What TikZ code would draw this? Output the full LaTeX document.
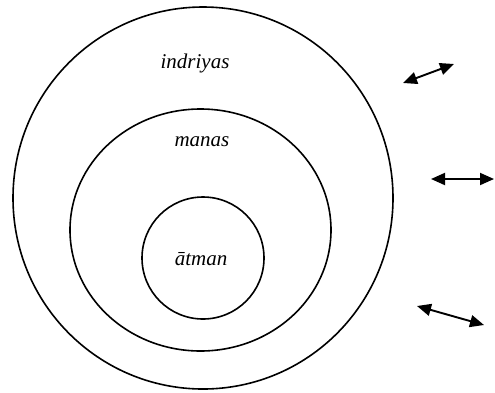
\documentclass[tikz,border=0pt]{standalone}
\usepackage{fontspec}
\setmainfont{Liberation Serif}
\usetikzlibrary{arrows.meta}

\begin{document}
\begin{tikzpicture}[x=1pt,y=-1pt,
  ring/.style={line width=1.6pt},
  link/.style={line width=1.9pt,{Triangle[length=14pt,width=12pt]}-{Triangle[length=14pt,width=12pt]}},
  word/.style={font=\fontsize{21}{24}\selectfont\itshape}]
  \useasboundingbox (0,0) rectangle (495,392);

  \draw[ring] (203,198) ellipse (190 and 191);
  \draw[ring] (200.5,230) ellipse (130.5 and 121);
  \draw[ring] (203,258) circle (61);

  \node[word] (indriyas) at (195,63) {indriyas};
  \node[word] (manas) at (202,142) {manas};
  \node[word] (atman) at (201,259) {\=atman};

  \coordinate (a1) at (403,83);
  \coordinate (b1) at (454,64);
  \coordinate (a2) at (431,179);
  \coordinate (b2) at (494,179);
  \coordinate (a3) at (417,306);
  \coordinate (b3) at (484,325);
  \draw[link] (a1) -- (b1);
  \draw[link] (a2) -- (b2);
  \draw[link] (a3) -- (b3);

\end{tikzpicture}
\end{document}
